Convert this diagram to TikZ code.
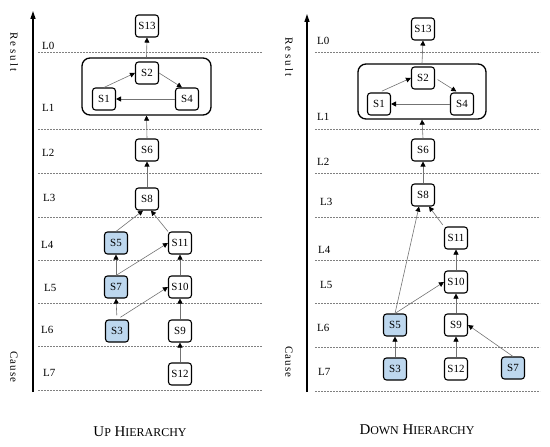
\documentclass[tikz,border=0pt]{standalone}
\usepackage{fontspec}
\setmainfont{Liberation Serif}
\usetikzlibrary{arrows.meta,calc}
\definecolor{nodeblue}{HTML}{BDD7EE}
\newcommand{\resword}{R\kern2.2bp e\kern2.2bp s\kern2.2bp u\kern2.2bp l\kern2.2bp t}
\newcommand{\cauword}{C\kern1bp a\kern1bp u\kern1bp s\kern1bp e}
\begin{document}
\begin{tikzpicture}[x=1bp,y=-1bp,
  st/.style={draw=black,line width=1.1bp,rounded corners=3bp,minimum width=23bp,minimum height=22bp,inner sep=1bp,font=\fontsize{11}{13}\selectfont,fill=white},
  hl/.style={st,fill=nodeblue},
  grp/.style={draw=black,line width=1.3bp,rounded corners=8bp,inner sep=0pt},
  conn/.style={draw=black!55,line width=0.6bp,-{Triangle[length=5bp,width=5bp,color=black]}},
  lvl/.style={draw=black!50,line width=0.6bp,dash pattern=on 1.5bp off 1.5bp},
  lab/.style={anchor=west,font=\fontsize{11}{13}\selectfont,inner sep=0pt},
  axis/.style={line width=1.3bp,-{Triangle[length=8bp,width=5bp]}},
  side/.style={font=\fontsize{11}{13}\selectfont,rotate=-90,inner sep=0pt},
  captxt/.style={font=\fontsize{15}{17}\selectfont,inner sep=0pt}]
\useasboundingbox (0,0) rectangle (550,447);

% ===== Left panel =====
\coordinate (la0) at (33,392);
\coordinate (la1) at (33,11);
\draw[axis] (la0) -- (la1);
\node[side] (lres) at (14,52) {\resword};
\node[side] (lcau) at (14,367) {\cauword};
\foreach \y in {52,129,173,217,260,303,346,390}{
  \coordinate (lA\y) at (38,\y); \coordinate (lB\y) at (262,\y);
  \draw[lvl] (lA\y) -- (lB\y);}
\node[lab] (lL0) at (42,46) {L0};
\node[lab] (lL1) at (42,108) {L1};
\node[lab] (lL2) at (42,153) {L2};
\node[lab] (lL3) at (43,198) {L3};
\node[lab] (lL4) at (41,245) {L4};
\node[lab] (lL5) at (44,288) {L5};
\node[lab] (lL6) at (41,330) {L6};
\node[lab] (lL7) at (43,373) {L7};

\node[grp,minimum width=129bp,minimum height=57bp] (lbox) at (146.5,86.5) {};
\node[st] (ls13) at (147,26) {S13};
\node[st] (ls2) at (147,73) {S2};
\node[st] (ls1) at (104,99) {S1};
\node[st] (ls4) at (187,99) {S4};
\node[st] (ls6) at (147,150) {S6};
\node[st] (ls8) at (147,199) {S8};
\node[hl] (ls5) at (116,243) {S5};
\node[st] (ls11) at (180,243) {S11};
\node[hl] (ls7) at (116,287) {S7};
\node[st] (ls10) at (180,287) {S10};
\node[hl] (ls3) at (117,331) {S3};
\node[st] (ls9) at (180,331) {S9};
\node[st] (ls12) at (180,374) {S12};

\draw[conn] (lbox.north) -- (ls13.south);
\draw[conn] (ls1.north) -- (ls2.west);
\draw[conn] (ls2.east) -- ([xshift=-5bp]ls4.north);
\draw[conn] (ls4.west) -- (ls1.east);
\draw[conn] (ls6.north) -- (lbox.south);
\draw[conn] (ls8.north) -- (ls6.south);
\draw[conn] (ls5.north) -- ([xshift=-4bp]ls8.south);
\draw[conn] (ls11.north west) -- ([xshift=4bp]ls8.south);
\draw[conn] (ls7.north) -- (ls5.south);
\draw[conn] (ls7.north) -- (ls11.west);
\draw[conn,shorten <=4bp] (ls3.north) -- (ls7.south);
\draw[conn,shorten <=4bp] (ls3.north) -- (ls10.west);
\draw[conn] (ls10.north) -- (ls11.south);
\draw[conn] (ls9.north) -- (ls10.south);
\draw[conn] (ls12.north) -- (ls9.south);

\node[captxt] (lcap) at (140,432) {U{\fontsize{12}{14}\selectfont P} H{\fontsize{12}{14}\selectfont IERARCHY}};

% ===== Right panel =====
\coordinate (ra0) at (307,392);
\coordinate (ra1) at (307,14);
\draw[axis] (ra0) -- (ra1);
\node[side] (rres) at (289,57) {\resword};
\node[side] (rcau) at (289,362) {\cauword};
\foreach \y in {52,129,173,217,260,303,347,391}{
  \coordinate (rA\y) at (315,\y); \coordinate (rB\y) at (540,\y);
  \draw[lvl] (rA\y) -- (rB\y);}
\node[lab] (rL0) at (317,41) {L0};
\node[lab] (rL1) at (317,117) {L1};
\node[lab] (rL2) at (317,162) {L2};
\node[lab] (rL3) at (320,202) {L3};
\node[lab] (rL4) at (318,250) {L4};
\node[lab] (rL5) at (320,285) {L5};
\node[lab] (rL6) at (317,328) {L6};
\node[lab] (rL7) at (318,372) {L7};

\node[grp,minimum width=128bp,minimum height=55bp] (rbox) at (422,91.5) {};
\node[st] (rs13) at (423,29) {S13};
\node[st] (rs2) at (423,78) {S2};
\node[st] (rs1) at (379,104) {S1};
\node[st] (rs4) at (462,104) {S4};
\node[st] (rs6) at (423,150) {S6};
\node[st] (rs8) at (423,195) {S8};
\node[st] (rs11) at (456,238) {S11};
\node[st] (rs10) at (456,282) {S10};
\node[st] (rs9) at (456,325) {S9};
\node[hl] (rs5) at (395,325) {S5};
\node[hl] (rs3) at (395,369) {S3};
\node[st] (rs12) at (456,369) {S12};
\node[hl] (rs7) at (513,368) {S7};

\draw[conn] (rbox.north) -- (rs13.south);
\draw[conn,shorten <=3bp] (rs1.north) -- (rs2.west);
\draw[conn,shorten <=3bp,shorten >=2bp] (rs2.east) -- ([xshift=-4bp]rs4.north);
\draw[conn] (rs4.west) -- (rs1.east);
\draw[conn] (rs6.north) -- (rbox.south);
\draw[conn] (rs8.north) -- (rs6.south);
\draw[conn] (rs5.north) -- ([xshift=-4bp]rs8.south);
\draw[conn,shorten <=2bp] (rs11.north west) -- ([xshift=6bp]rs8.south);
\draw[conn] (rs5.north) -- (rs10.west);
\draw[conn] (rs10.north) -- (rs11.south);
\draw[conn] (rs9.north) -- (rs10.south);
\draw[conn] (rs12.north) -- (rs9.south);
\draw[conn] (rs7.north) -- (rs9.east);
\draw[conn] (rs3.north) -- (rs5.south);

\node[captxt] (rcap) at (417,430) {D{\fontsize{12}{14}\selectfont OWN} H{\fontsize{12}{14}\selectfont IERARCHY}};
\end{tikzpicture}
\end{document}
